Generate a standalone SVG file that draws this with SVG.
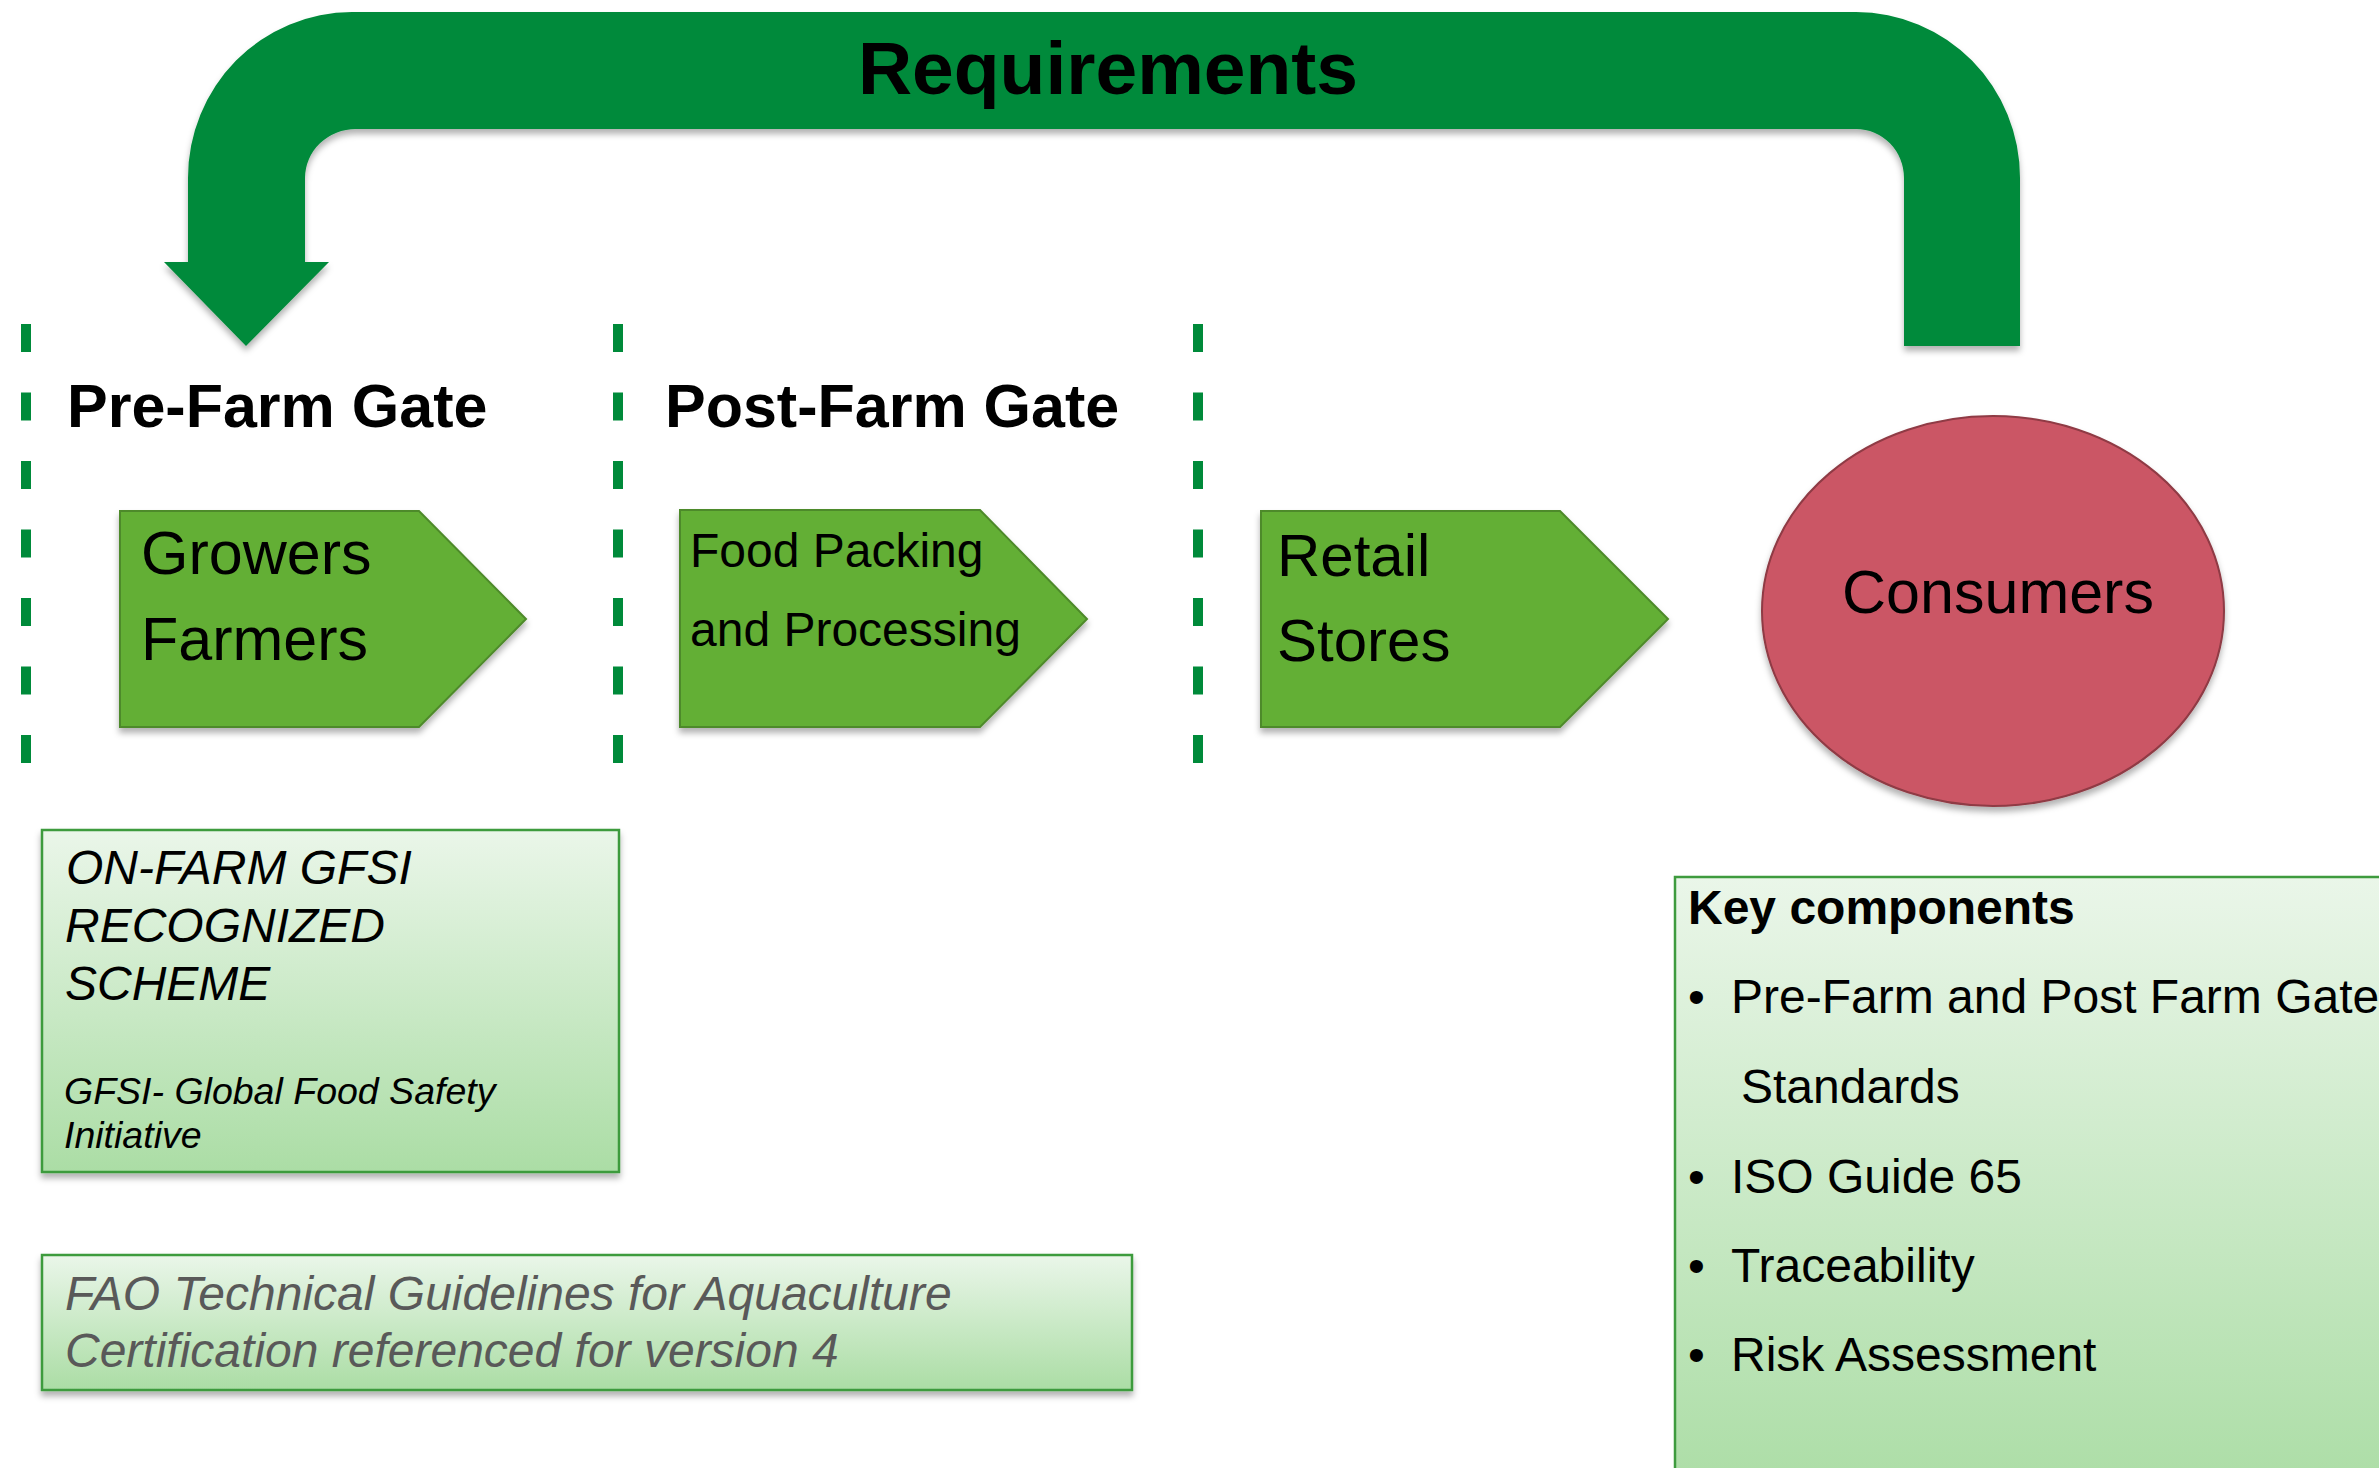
<svg xmlns="http://www.w3.org/2000/svg" width="2379" height="1468" viewBox="0 0 2379 1468">
  <defs>
    <style>
      .t { font-family: "Liberation Sans", Arial, sans-serif; fill: #000; }
      .b { font-weight: bold; }
      .i { font-style: italic; }
      .g { fill: #595959; }
      .chev { fill: #64AF36; stroke: #4E8A2A; stroke-width: 2; }
      .box { stroke: #3E9B3E; stroke-width: 2.5; fill: url(#boxGrad); }
      .sep { stroke: #008A3A; stroke-width: 10; stroke-dasharray: 28 40.5; fill: none; }
    </style>
    <linearGradient id="boxGrad" x1="0" y1="0" x2="0" y2="1">
      <stop offset="0" stop-color="#EAF6E9"/>
      <stop offset="1" stop-color="#ABDDA5"/>
    </linearGradient>
    <filter id="shadow" x="-5%" y="-5%" width="110%" height="115%">
      <feDropShadow dx="0" dy="5" stdDeviation="3" flood-color="#000" flood-opacity="0.3"/>
    </filter>
  </defs>

  <rect width="2379" height="1468" fill="#FFFFFF"/>

  <g id="separators">
    <line class="sep" x1="26" y1="324" x2="26" y2="765"/>
    <line class="sep" x1="618" y1="324" x2="618" y2="765"/>
    <line class="sep" x1="1198" y1="324" x2="1198" y2="765"/>
  </g>

  <g id="connectors">
    <g id="requirements-arrow">
      <path filter="url(#shadow)" fill="#008A3A" d="M 2020 346 L 2020 178 A 164 166 0 0 0 1856 12 L 352 12 A 164 166 0 0 0 188 178 L 188 262 L 164 262 L 246 346 L 329 262 L 305 262 L 305 178 A 51 49 0 0 1 356 129 L 1856 129 A 48 49 0 0 1 1904 178 L 1904 346 Z"/>
      <text class="t b" x="1108" y="94" font-size="75" text-anchor="middle">Requirements</text>
    </g>
  </g>

  <g id="label-pre-farm">
    <text class="t b" x="67" y="427" font-size="61">Pre-Farm Gate</text>
  </g>
  <g id="label-post-farm">
    <text class="t b" x="665" y="427" font-size="61">Post-Farm Gate</text>
  </g>

  <g id="node-growers">
    <polygon class="chev" filter="url(#shadow)" points="120,511 419,511 526,619 419,727 120,727"/>
    <text class="t" x="141" y="574" font-size="61">Growers</text>
    <text class="t" x="141" y="660" font-size="61">Farmers</text>
  </g>

  <g id="node-food-packing">
    <polygon class="chev" filter="url(#shadow)" points="680,510 980,510 1087,619 980,727 680,727"/>
    <text class="t" x="690" y="567" font-size="48">Food Packing</text>
    <text class="t" x="690" y="646" font-size="48">and Processing</text>
  </g>

  <g id="node-retail">
    <polygon class="chev" filter="url(#shadow)" points="1261,511 1560,511 1668,619 1560,727 1261,727"/>
    <text class="t" x="1277" y="576" font-size="60">Retail</text>
    <text class="t" x="1277" y="661" font-size="60">Stores</text>
  </g>

  <g id="node-consumers">
    <ellipse filter="url(#shadow)" cx="1993" cy="611" rx="231" ry="195" fill="#CB5665" stroke="#8F3A44" stroke-width="2"/>
    <text class="t" x="1998" y="613" font-size="61" text-anchor="middle">Consumers</text>
  </g>

  <g id="box-on-farm">
    <rect class="box" filter="url(#shadow)" x="42" y="830" width="577" height="342"/>
    <text class="t i" x="66" y="884" font-size="48">ON-FARM GFSI</text>
    <text class="t i" x="65" y="942" font-size="48">RECOGNIZED</text>
    <text class="t i" x="65" y="1000" font-size="48">SCHEME</text>
    <text class="t i" x="64" y="1104" font-size="37.5">GFSI- Global Food Safety</text>
    <text class="t i" x="64" y="1148" font-size="37.5">Initiative</text>
  </g>

  <g id="box-fao">
    <rect class="box" filter="url(#shadow)" x="42" y="1255" width="1090" height="135"/>
    <text class="t i g" x="65" y="1310" font-size="48">FAO Technical Guidelines for Aquaculture</text>
    <text class="t i g" x="65" y="1367" font-size="48">Certification referenced for version 4</text>
  </g>

  <g id="box-key-components">
    <rect class="box" x="1675" y="877" width="740" height="620"/>
    <text class="t b" x="1688" y="924" font-size="48">Key components</text>
    <text class="t" x="1688" y="1013" font-size="48">•</text>
    <text class="t" x="1731" y="1013" font-size="48">Pre-Farm and Post Farm Gate</text>
    <text class="t" x="1741" y="1103" font-size="48">Standards</text>
    <text class="t" x="1688" y="1193" font-size="48">•</text>
    <text class="t" x="1731" y="1193" font-size="48">ISO Guide 65</text>
    <text class="t" x="1688" y="1282" font-size="48">•</text>
    <text class="t" x="1731" y="1282" font-size="48">Traceability</text>
    <text class="t" x="1688" y="1371" font-size="48">•</text>
    <text class="t" x="1731" y="1371" font-size="48">Risk Assessment</text>
  </g>
</svg>
